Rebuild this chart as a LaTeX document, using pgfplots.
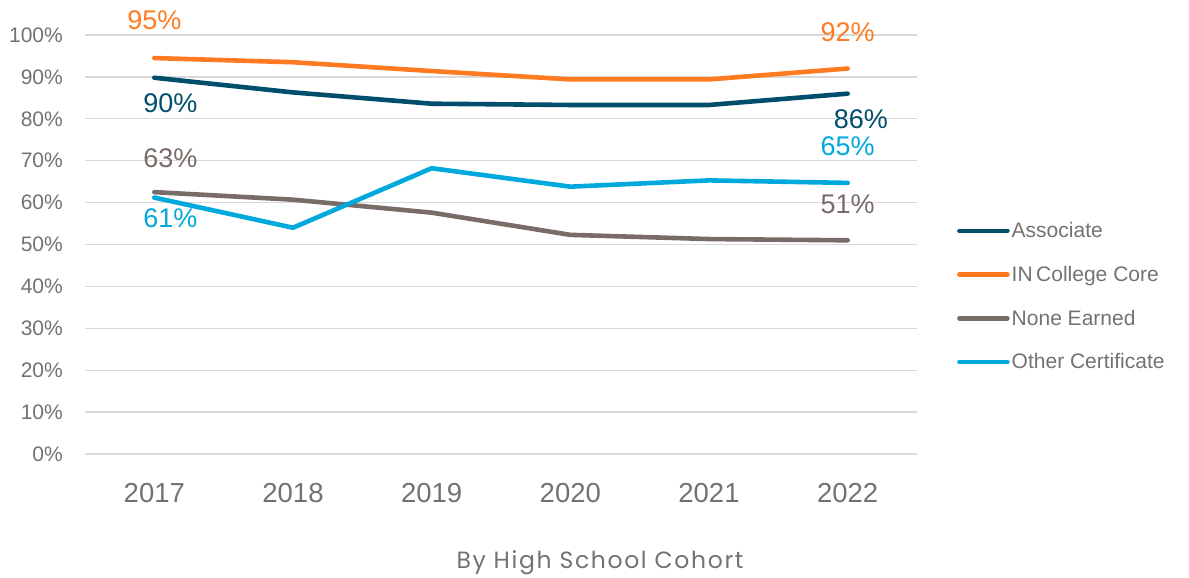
\documentclass[border=0pt]{standalone}
\usepackage{fontspec}
\setmainfont{Liberation Sans}
\newfontfamily\poppins[LetterSpace=7]{Poppins}
\usepackage{pgfplots}
\pgfplotsset{compat=1.18}
\definecolor{cassoc}{HTML}{004E6B}
\definecolor{ccore}{HTML}{FF7A21}
\definecolor{cnone}{HTML}{786B68}
\definecolor{cother}{HTML}{00A9DC}
\definecolor{ctext}{HTML}{767171}
\definecolor{cgrid}{HTML}{D9D9D9}
\begin{document}
\begin{tikzpicture}
\useasboundingbox (0,0) rectangle (1189bp,578bp);
\begin{axis}[
  at={(85bp,124bp)}, anchor=south west,
  width=832bp, height=419bp, scale only axis,
  xmin=-0.5, xmax=5.5, ymin=0, ymax=100,
  axis line style={draw=none},
  xtick={0,1,2,3,4,5},
  xticklabels={2017,2018,2019,2020,2021,2022},
  ytick={0,10,...,100},
  yticklabel={\pgfmathprintnumber{\tick}\%},
  /pgf/number format/assume math mode=true,
  major tick length=0pt,
  ymajorgrids, grid style={cgrid, line width=1.3bp},
  yticklabel style={font=\fontsize{21bp}{24bp}\selectfont, text=ctext, inner sep=0pt, xshift=-22bp},
  xticklabel style={font=\fontsize{27.5bp}{30bp}\selectfont, text=ctext, inner sep=0pt, yshift=-29bp},
  xlabel={By High School Cohort},
  xlabel style={at={(axis description cs:0.619,0)}, anchor=center, yshift=-109bp, font=\poppins\fontsize{23.5bp}{26bp}\selectfont, text=ctext},
  legend style={at={(1.048,0.376)}, anchor=west, draw=none, fill=none,
    font=\fontsize{21bp}{24bp}\selectfont, text=ctext,
    row sep=23bp, inner sep=0pt},
  legend cell align=left,
  legend image code/.code={\draw[#1, line cap=round] (0bp,0bp) -- (48bp,0bp);},
  every axis plot/.append style={line width=4.6bp, line join=round, line cap=round, mark=none},
  clip=false,
]
\addplot[cassoc] coordinates {(0,89.8) (1,86.3) (2,83.6) (3,83.3) (4,83.3) (5,86.0)};
\addlegendentry{Associate}
\addplot[ccore] coordinates {(0,94.5) (1,93.5) (2,91.4) (3,89.4) (4,89.4) (5,92.0)};
\addlegendentry{IN\,College Core}
\addplot[cnone] coordinates {(0,62.5) (1,60.7) (2,57.6) (3,52.3) (4,51.3) (5,51.0)};
\addlegendentry{None Earned}
\addplot[cother] coordinates {(0,61.2) (1,54.0) (2,68.2) (3,63.8) (4,65.3) (5,64.7)};
\addlegendentry{Other Certificate}
\begin{scope}[every node/.style={font=\fontsize{27bp}{30bp}\selectfont, inner sep=0pt}]
\node[text=ccore] at (axis cs:0,103.6) {95\%};
\node[text=ccore] at (axis cs:5,100.7) {92\%};
\node[text=cassoc] at (axis cs:0.115,83.7) {90\%};
\node[text=cassoc] at (axis cs:5.095,80.0) {86\%};
\node[text=cnone] at (axis cs:0.115,70.7) {63\%};
\node[text=cnone] at (axis cs:5,59.6) {51\%};
\node[text=cother] at (axis cs:0.115,56.2) {61\%};
\node[text=cother] at (axis cs:5,73.5) {65\%};
\end{scope}
\end{axis}
\end{tikzpicture}
\end{document}
